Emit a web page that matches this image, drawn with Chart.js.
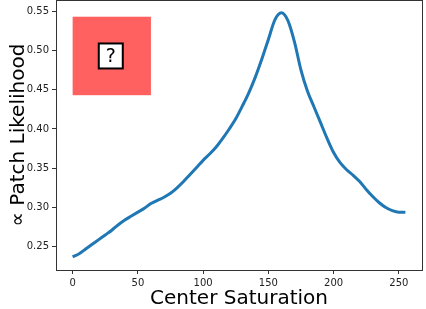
<!DOCTYPE html>
<html lang="en">
<head>
<meta charset="UTF-8" />
<title>Patch Likelihood</title>
<script src="https://cdn.jsdelivr.net/npm/chart.js"></script>
<style>
  body { margin: 0; padding: 0; background: #fff; }
  #wrap { width: 426px; height: 309px; }
</style>
</head>
<body>
<div id="wrap"><canvas id="chart"></canvas></div>
<script>
// center saturation values and likelihood
const saturation = [0, 5, 10, 15, 20, 25, 30, 35, 40, 45, 50, 55, 60, 65, 70, 75, 80, 85, 90, 95,
  100, 105, 110, 115, 120, 125, 130, 135, 140, 145, 150, 155, 160, 165, 170, 175, 180, 185, 190, 195,
  200, 205, 210, 215, 220, 225, 230, 235, 240, 245, 250, 255];
const likelihood = [0.237, 0.241, 0.247, 0.253, 0.259, 0.265, 0.271, 0.278, 0.284, 0.289, 0.294, 0.299,
  0.305, 0.309, 0.313, 0.318, 0.325, 0.333, 0.342, 0.351, 0.360, 0.368, 0.377, 0.388, 0.400, 0.413,
  0.429, 0.446, 0.466, 0.489, 0.514, 0.539, 0.548, 0.538, 0.511, 0.475, 0.448, 0.428, 0.408, 0.388,
  0.370, 0.357, 0.348, 0.341, 0.333, 0.323, 0.314, 0.306, 0.300, 0.296, 0.294, 0.294];
const xTicks = [0, 50, 100, 150, 200, 250];
const yTicks = [0.25, 0.30, 0.35, 0.40, 0.45, 0.50, 0.55];

// colour patch drawn in data space (inset image)
const patchX = [0, 60];
const patchY = [0.443, 0.543];

const points = saturation.map((s, i) => ({ x: s, y: likelihood[i] }));

const framePlugin = {
  id: "frame",
  beforeDatasetsDraw(chart) {
    const { ctx, scales } = chart;
    const x0 = scales.x.getPixelForValue(patchX[0]);
    const x1 = scales.x.getPixelForValue(patchX[1]);
    const y0 = scales.y.getPixelForValue(patchY[1]);
    const y1 = scales.y.getPixelForValue(patchY[0]);
    ctx.save();
    ctx.fillStyle = "rgb(255,96,96)";
    ctx.fillRect(x0, y0, x1 - x0, y1 - y0);
    // question mark box
    const cx = (x0 + x1) / 2 - 1, cy = (y0 + y1) / 2;
    ctx.fillStyle = "#fff";
    ctx.fillRect(cx - 12, cy - 12.5, 24, 25);
    ctx.strokeStyle = "#000";
    ctx.lineWidth = 2;
    ctx.strokeRect(cx - 12, cy - 12.5, 24, 25);
    ctx.fillStyle = "#000";
    ctx.font = "19px 'DejaVu Sans'";
    ctx.textAlign = "center";
    ctx.textBaseline = "middle";
    ctx.fillText("?", cx, cy + 1);
    ctx.restore();
  },
  afterDraw(chart) {
    const { ctx, chartArea: a } = chart;
    ctx.save();
    ctx.strokeStyle = "#333";
    ctx.lineWidth = 1;
    ctx.strokeRect(Math.round(a.left) + 0.5, Math.round(a.top) + 0.5,
      Math.round(a.right - a.left), Math.round(a.bottom - a.top));
    ctx.restore();
  }
};

new Chart(document.getElementById("chart"), {
  type: "line",
  data: {
    datasets: [{
      data: points,
      borderColor: "#1f77b4",
      borderWidth: 3,
      pointRadius: 0,
      fill: false,
      cubicInterpolationMode: "monotone"
    }]
  },
  options: {
    responsive: true,
    maintainAspectRatio: false,
    animation: false,
    layout: { padding: { top: 0, right: 4, left: 0, bottom: 0 } },
    plugins: { legend: { display: false }, tooltip: { enabled: false } },
    scales: {
      x: {
        type: "linear",
        min: -12.75,
        max: 267.75,
        afterBuildTicks: (s) => { s.ticks = xTicks.map(v => ({ value: v })); },
        afterFit: (s) => { s.height = 39; },
        grid: { drawOnChartArea: false, drawTicks: true, tickLength: 4, color: "#333" },
        border: { display: false },
        ticks: { color: "#222", font: { family: "DejaVu Sans", size: 10 }, padding: 3, maxRotation: 0 },
        title: {
          display: true,
          text: "Center Saturation",
          color: "#000",
          font: { family: "DejaVu Sans", size: 20 },
          padding: { top: 0, bottom: -2 }
        }
      },
      y: {
        min: 0.2203,
        max: 0.5643,
        afterBuildTicks: (s) => { s.ticks = yTicks.map(v => ({ value: v })); },
        afterFit: (s) => { s.width = 56; s.paddingTop = 0; s.paddingBottom = 0; },
        grid: { drawOnChartArea: false, drawTicks: true, tickLength: 4, color: "#333" },
        border: { display: false },
        ticks: {
          color: "#222",
          font: { family: "DejaVu Sans", size: 10, lineHeight: 0.1 },
          padding: 3,
          callback: (v) => v.toFixed(2)
        },
        title: {
          display: true,
          text: "∝ Patch Likelihood",
          color: "#000",
          font: { family: "DejaVu Sans", size: 20 },
          padding: { top: 7, bottom: 0 }
        }
      }
    }
  },
  plugins: [framePlugin]
});
</script>
</body>
</html>
